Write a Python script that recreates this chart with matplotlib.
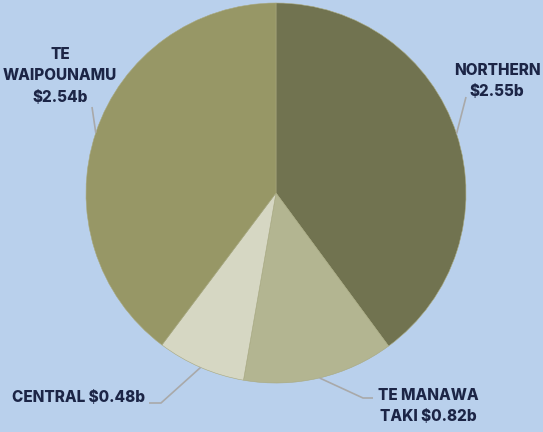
import matplotlib
matplotlib.use("Agg")
import matplotlib.pyplot as plt
import numpy as np

regions = ["NORTHERN", "TE MANAWA TAKI", "CENTRAL", "TE WAIPOUNAMU"]
values = [2.55, 0.82, 0.48, 2.54]
labels = ["NORTHERN\n$2.55b", "TE MANAWA\nTAKI $0.82b", "CENTRAL $0.48b", "TE\nWAIPOUNAMU\n$2.54b"]
colors = ["#717350", "#b3b591", "#d6d7c3", "#979766"]

BG = "#b9d0ec"
TEXT = "#1c2546"
LINE = "#a9a9a9"

W, H = 543, 432
cx, cy, r = 276, H - 193, 190

fig = plt.figure(figsize=(W / 100, H / 100), dpi=100, facecolor=BG)
ax = fig.add_axes([0, 0, 1, 1])
ax.set_facecolor(BG)

wedges, _ = ax.pie(values, colors=colors, startangle=90, counterclock=False,
                   center=(cx, cy), radius=r, frame=True,
                   wedgeprops=dict(edgecolor="#a8a87e", linewidth=0.4))
ax.set_xlim(0, W)
ax.set_ylim(0, H)
ax.set_aspect("equal")
ax.axis("off")

# leader-line elbows and label anchors (pixel layout)
elbows = [
    [(466, H - 97)],
    [(363, H - 398), (373, H - 398)],
    [(161, H - 403), (149, H - 403)],
    [(92, H - 107)],
]
text_pos = [(497, H - 81, "center"), (428, H - 406, "center"),
            (145, H - 398, "right"), (60, H - 76, "center")]

for w, pts, (tx, ty, ha), lab in zip(wedges, elbows, text_pos, labels):
    mid = np.deg2rad((w.theta1 + w.theta2) / 2)
    x0, y0 = cx + r * np.cos(mid), cy + r * np.sin(mid)
    xs = [x0] + [p[0] for p in pts]
    ys = [y0] + [p[1] for p in pts]
    ax.plot(xs, ys, color=LINE, linewidth=1.2, solid_capstyle="butt")
    ax.text(tx, ty, lab, ha=ha, va="center", color=TEXT, fontsize=11,
            fontweight="heavy", family="Inter", linespacing=1.55,
            multialignment="center")

fig.savefig("out.png", dpi=100, facecolor=BG)
